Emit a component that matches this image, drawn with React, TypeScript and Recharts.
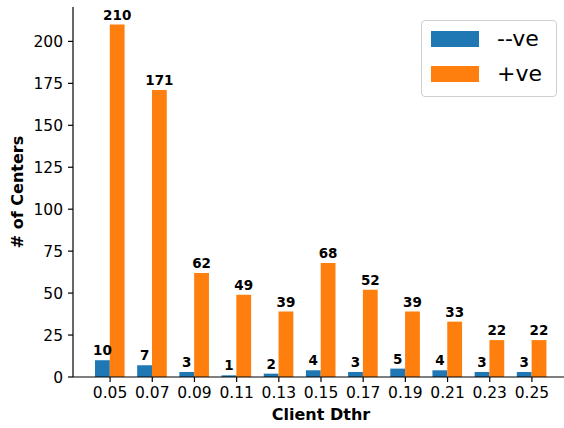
import React from "react";
import {
  BarChart,
  Bar,
  XAxis,
  YAxis,
  Legend,
  LabelList,
} from "recharts";

const categories = ["0.05", "0.07", "0.09", "0.11", "0.13", "0.15", "0.17", "0.19", "0.21", "0.23", "0.25"];
const negValues = [10, 7, 3, 1, 2, 4, 3, 5, 4, 3, 3];
const posValues = [210, 171, 62, 49, 39, 68, 52, 39, 33, 22, 22];
const yTicks = [0, 25, 50, 75, 100, 125, 150, 175, 200];

const series = [
  { key: "neg", name: "--ve", color: "#1f77b4" },
  { key: "pos", name: "+ve", color: "#ff7f0e" },
];

const data = categories.map((cat, i) => ({
  cat,
  neg: negValues[i],
  pos: posValues[i],
}));

const FONT = "DejaVu Sans, sans-serif";

function LegendBox() {
  return (
    <div
      style={{
        width: 134,
        height: 75,
        border: "1px solid #d0d0d0",
        borderRadius: 4,
        background: "rgba(255,255,255,0.8)",
        fontFamily: FONT,
        boxSizing: "content-box",
      }}
    >
      {series.map((s, i) => (
        <div
          key={s.key}
          style={{
            position: "absolute",
            left: 10,
            top: 10 + i * 35,
            display: "flex",
            alignItems: "center",
            height: 17,
          }}
        >
          <div style={{ width: 48, height: 16, background: s.color }} />
          <span style={{ marginLeft: 18, fontSize: 22, color: "#000", lineHeight: "17px" }}>
            {s.name}
          </span>
        </div>
      ))}
    </div>
  );
}

export default function App() {
  return (
    <div
      style={{
        position: "absolute",
        left: 0,
        top: 0,
        width: 564,
        height: 428,
        overflow: "hidden",
        background: "#fff",
      }}
    >
      <BarChart
        width={574}
        height={428}
        data={data}
        margin={{ top: 7, right: 5, bottom: 6, left: 0 }}
        barGap={0}
        style={{ fontFamily: FONT }}
      >
        <XAxis
          dataKey="cat"
          padding={{ left: 16, right: 16 }}
          height={45}
          interval={0}
          tickSize={5}
          tickMargin={5}
          tick={{ fill: "#000", fontSize: 15.5, fontFamily: FONT }}
          tickLine={{ stroke: "#000", strokeWidth: 1.2 }}
          axisLine={{ stroke: "#000", strokeWidth: 1.2 }}
          label={{
            value: "Client Dthr",
            position: "insideBottom",
            offset: 2,
            style: { fill: "#000", fontSize: 16, fontWeight: "bold", fontFamily: FONT },
          }}
        />
        <XAxis
          xAxisId="top"
          orientation="top"
          dataKey="cat"
          height={0}
          tick={false}
          tickLine={false}
          axisLine={{ stroke: "#000", strokeWidth: 1.2 }}
        />
        <YAxis
          type="number"
          width={73}
          domain={[0, 220.5]}
          ticks={yTicks}
          allowDataOverflow
          tickSize={5}
          tickMargin={5}
          tick={{ fill: "#000", fontSize: 15.5, fontFamily: FONT }}
          tickLine={{ stroke: "#000", strokeWidth: 1.2 }}
          axisLine={{ stroke: "#000", strokeWidth: 1.2 }}
          label={{
            value: "# of Centers",
            angle: -90,
            position: "insideLeft",
            offset: 17,
            style: {
              fill: "#000",
              fontSize: 16,
              fontWeight: "bold",
              fontFamily: FONT,
              textAnchor: "middle",
            },
          }}
        />
        <Legend
          layout="vertical"
          align="center"
          verticalAlign="middle"
          content={() => <LegendBox />}
          wrapperStyle={{ position: "absolute", left: 421, top: 20, width: 136, height: 77 }}
        />
        {series.map((s) => (
          <Bar
            key={s.key}
            dataKey={s.key}
            name={s.name}
            fill={s.color}
            barSize={14.8}
            isAnimationActive={false}
          >
            <LabelList
              dataKey={s.key}
              position="top"
              offset={5}
              style={{ fill: "#000", fontSize: 13.5, fontWeight: "bold", fontFamily: FONT }}
            />
          </Bar>
        ))}
      </BarChart>
    </div>
  );
}
